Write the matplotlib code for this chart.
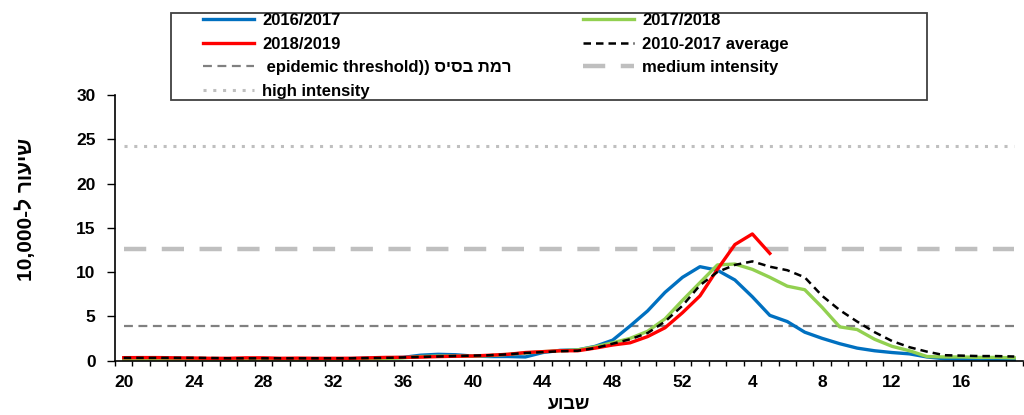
import matplotlib
matplotlib.use("Agg")
import matplotlib.pyplot as plt
from matplotlib.patches import Rectangle
import numpy as np

plt.rcParams["font.family"] = ["Liberation Sans", "DejaVu Sans"]
plt.rcParams["font.weight"] = "bold"

# weeks 20..52 then 1..19
weeks = list(range(20, 53)) + list(range(1, 20))
tick_weeks = [20, 24, 28, 32, 36, 40, 44, 48, 52, 4, 8, 12, 16]

s_2016 = [0.25, 0.25, 0.25, 0.22, 0.22, 0.2, 0.2, 0.22, 0.22, 0.2, 0.2, 0.2, 0.2, 0.22, 0.25, 0.3,
          0.35, 0.6, 0.7, 0.65, 0.5, 0.45, 0.45, 0.4, 0.9, 1.15, 1.2, 1.6, 2.3, 3.9, 5.6, 7.7,
          9.4, 10.6, 10.2, 9.1, 7.2, 5.1, 4.4, 3.2, 2.5, 1.9, 1.4, 1.1, 0.9, 0.75, 0.4, 0.2,
          0.15, 0.15, 0.1, 0.1]
s_2017 = [0.15, 0.15, 0.15, 0.14, 0.14, 0.13, 0.13, 0.14, 0.14, 0.13, 0.13, 0.13, 0.14, 0.15, 0.18, 0.22,
          0.3, 0.45, 0.5, 0.5, 0.5, 0.55, 0.7, 0.85, 1.0, 1.1, 1.2, 1.55, 2.0, 2.5, 3.3, 4.7,
          6.8, 8.8, 10.8, 10.9, 10.3, 9.4, 8.4, 8.0, 6.0, 3.8, 3.5, 2.4, 1.6, 1.1, 0.45, 0.4,
          0.4, 0.35, 0.35, 0.3]
s_2018 = [0.32, 0.33, 0.33, 0.3, 0.28, 0.25, 0.25, 0.3, 0.3, 0.25, 0.27, 0.25, 0.25, 0.25, 0.3, 0.35,
          0.36, 0.38, 0.44, 0.48, 0.51, 0.6, 0.7, 0.9, 1.0, 1.1, 1.1, 1.4, 1.75, 2.0, 2.7, 3.7,
          5.4, 7.3, 10.3, 13.1, 14.3, 12.1]
s_avg = [0.3, 0.3, 0.3, 0.3, 0.3, 0.28, 0.25, 0.25, 0.25, 0.25, 0.25, 0.25, 0.25, 0.25, 0.28, 0.3,
         0.35, 0.4, 0.45, 0.5, 0.55, 0.6, 0.7, 0.85, 0.95, 1.05, 1.1, 1.4, 1.9, 2.4, 3.1, 4.4,
         6.2, 8.5, 10.0, 10.8, 11.2, 10.6, 10.2, 9.4, 7.3, 5.7, 4.4, 3.2, 2.2, 1.5, 1.0, 0.6,
         0.55, 0.5, 0.5, 0.45]
epidemic = 3.9
medium = 12.6
high = 24.2

W, H = 1024, 415
x = np.arange(len(weeks))

fig = plt.figure(figsize=(W / 100, H / 100), dpi=100)
ax = fig.add_axes([115 / W, 1 - 360.5 / H, 908 / W, (360.5 - 95) / H])

l_high, = ax.plot(x, [high] * len(x), color="#BFBFBF", lw=2.2, dashes=(1, 2.2),
                  label="high intensity")
l_med, = ax.plot(x, [medium] * len(x), color="#BFBFBF", lw=3.2, dashes=(5, 3.5),
                 label="medium intensity")
# Hebrew drawn in visual order (no bidi in matplotlib)
l_epi, = ax.plot(x, [epidemic] * len(x), color="#808080", lw=1.6, dashes=(4, 2.5),
                 label=" epidemic threshold)) " + "רמת בסיס"[::-1])
l16, = ax.plot(x, s_2016, color="#0070C0", lw=2.4, label="2016/2017")
l17, = ax.plot(x, s_2017, color="#92D050", lw=2.4, label="2017/2018")
l18, = ax.plot(x[:len(s_2018)], s_2018, color="#FF0000", lw=2.4, label="2018/2019")
lav, = ax.plot(x, s_avg, color="black", lw=1.8, dashes=(3, 2), label="2010-2017 average")

ax.set_xlim(-0.5, len(x) - 0.5)
ax.set_ylim(0, 30)
ax.set_yticks(range(0, 31, 5))
ax.set_xticks([weeks.index(w) if w >= 20 else 33 + w - 1 for w in tick_weeks])
ax.set_xticklabels([str(w) for w in tick_weeks])
ax.set_xticks(np.arange(-0.5, len(x), 1), minor=True)
ax.tick_params(axis="x", which="major", length=0, pad=10.5, labelsize=12.5)
ax.tick_params(axis="x", which="minor", length=3.5, width=1, direction="out")
ax.tick_params(axis="y", length=6, width=1, direction="out", labelsize=12.5, pad=8)
for sp in ["top", "right"]:
    ax.spines[sp].set_visible(False)
for sp in ["left", "bottom"]:
    ax.spines[sp].set_linewidth(1.2)

ax.set_ylabel("10,000-ל " + "שיעור"[::-1], fontsize=15, fontweight="bold")
ax.yaxis.set_label_coords(-0.087, 0.57)
ax.set_xlabel("שבוע"[::-1], fontsize=13, fontweight="bold", labelpad=4)

# legend: frame drawn separately, two columns placed explicitly
fig.patches.append(Rectangle((171 / W, 1 - 100 / H), (927 - 171) / W, 87 / H,
                             transform=fig.transFigure, fill=False,
                             edgecolor="#404040", lw=1.3))
leg_kw = dict(loc="upper left", fontsize=12, frameon=False, handlelength=3.05,
              handletextpad=0.5, labelspacing=0.52, borderpad=0, borderaxespad=0)
col1 = [l16, l18, l_epi, l_high]
col2 = [l17, lav, l_med]
fig.legend(col1, [h.get_label() for h in col1],
           bbox_to_anchor=(203 / W, 1 - 13 / H), **leg_kw)
fig.legend(col2, [h.get_label() for h in col2],
           bbox_to_anchor=(583 / W, 1 - 13 / H), **leg_kw)

fig.savefig("out.png", dpi=100)
